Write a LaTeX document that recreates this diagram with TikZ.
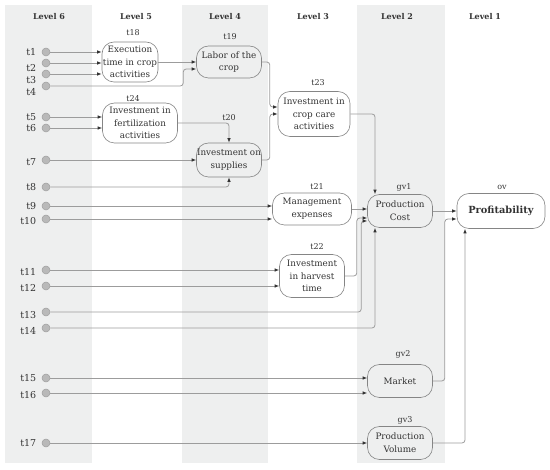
\documentclass[tikz,border=0pt]{standalone}
\usepackage{fontspec}
\setmainfont{DejaVu Serif}
\usetikzlibrary{
  arrows.meta,
  calc,
  positioning
}
\definecolor{bandgray}{HTML}{EEEFEF}
\definecolor{wiregray}{HTML}{9C9C9C}
\definecolor{rimgray}{HTML}{858585}
\definecolor{inkgray}{HTML}{333333}

\begin{document}
\begin{tikzpicture}[x=1pt,y=-1pt,
  every node/.style={text=inkgray},
  label distance=2pt,
  head/.style={font=\fontsize{8}{10}\selectfont\bfseries},
  var/.style={draw=rimgray,line width=0.6pt,rounded corners=12pt,align=center,
    inner xsep=0.5pt,inner ysep=0pt,font=\fontsize{8.8}{12.8}\selectfont},
  tag/.style={font=\fontsize{8}{10}\selectfont},
  src/.style={circle,draw=gray!75,fill=gray!55,line width=0.5pt,minimum size=8pt,inner sep=0pt},
  lab/.style={font=\fontsize{9.5}{11}\selectfont,text=inkgray},
  wire/.style={draw=wiregray,line width=0.8pt,rounded corners=3pt,
    -{Latex[length=4.5pt,width=3.5pt,color=inkgray]}}
]
  \useasboundingbox (0,0) rectangle (550,470);
  \fill[bandgray] (5,5) rectangle (92,463);
  \fill[bandgray] (182,5) rectangle (268,463);
  \fill[bandgray] (357,5) rectangle (445,463);

  \node[head] (h6) at (49,17) {Level 6};
  \node[head] (h5) at (136,17) {Level 5};
  \node[head] (h4) at (225,17) {Level 4};
  \node[head] (h3) at (313,17) {Level 3};
  \node[head] (h2) at (397,17) {Level 2};
  \node[head] (h1) at (485,17) {Level 1};

  \node[src,label={[lab]left:t1}] (t1) at (46,52) {};
  \node[src,label={[lab,yshift=-5pt]left:t2}] (t2) at (46,63) {};
  \node[src,label={[lab,yshift=-6pt]left:t3}] (t3) at (46,74) {};
  \node[src,label={[lab,yshift=-6pt]left:t4}] (t4) at (46,86) {};
  \node[src,label={[lab]left:t5}] (t5) at (46,117) {};
  \node[src,label={[lab]left:t6}] (t6) at (46,128) {};
  \node[src,label={[lab,yshift=-2pt]left:t7}] (t7) at (46,160) {};
  \node[src,label={[lab]left:t8}] (t8) at (46,187) {};
  \node[src,label={[lab]left:t9}] (t9) at (46,206) {};
  \node[src,label={[lab,yshift=-2pt]left:t10}] (t10) at (46,219) {};
  \node[src,label={[lab,yshift=-2pt]left:t11}] (t11) at (46,270) {};
  \node[src,label={[lab,yshift=-2pt]left:t12}] (t12) at (46,286) {};
  \node[src,label={[lab,yshift=-3pt]left:t13}] (t13) at (46,312) {};
  \node[src,label={[lab,yshift=-3pt]left:t14}] (t14) at (46,328) {};
  \node[src,label={[lab]left:t15}] (t15) at (46,378) {};
  \node[src,label={[lab,yshift=-2pt]left:t16}] (t16) at (46,393) {};
  \node[src,label={[lab]left:t17}] (t17) at (46,443) {};

  \node[var,minimum width=56pt,minimum height=40pt] (t18) at (130,62) {Execution\\time in crop\\activities};
  \node[var,minimum width=65pt,minimum height=32pt] (t19) at (229,62) {Labor of the\\crop};
  \node[var,minimum width=75pt,minimum height=40pt] (t24) at (140,123) {Investment in\\fertilization\\activities};
  \node[var,minimum width=65pt,minimum height=34pt] (t20) at (229,160) {Investment on\\supplies};
  \node[var,minimum width=72pt,minimum height=45pt] (t23) at (314,114) {Investment in\\crop care\\activities};
  \node[var,minimum width=79pt,minimum height=32pt] (t21) at (312,209) {Management\\expenses};
  \node[var,minimum width=65pt,minimum height=43pt] (t22) at (312,276) {Investment\\in harvest\\time};
  \node[var,minimum width=65pt,minimum height=33pt] (gv1) at (400,211) {Production\\Cost};
  \node[var,minimum width=88pt,minimum height=35pt,font=\fontsize{9.8}{12}\selectfont\bfseries] (ov) at (501,211) {Profitability};
  \node[var,minimum width=65pt,minimum height=33pt] (gv2) at (400,381) {Market};
  \node[var,minimum width=65pt,minimum height=33pt] (gv3) at (400,443) {Production\\Volume};

  \node[tag] (lt18) at (133,33) {t18};
  \node[tag] (lt19) at (230,37) {t19};
  \node[tag] (lt24) at (133,99) {t24};
  \node[tag] (lt20) at (229,118) {t20};
  \node[tag] (lt23) at (318,83) {t23};
  \node[tag] (lt21) at (317,187) {t21};
  \node[tag] (lt22) at (317,247) {t22};
  \node[tag] (lgv1) at (404,187) {gv1};
  \node[tag] (lov) at (502,187) {ov};
  \node[tag] (lgv2) at (403,354) {gv2};
  \node[tag] (lgv3) at (405,420) {gv3};

  \draw[wire] (t1) -- (t1 -| t18.west);
  \draw[wire] (t2) -- (t2 -| t18.west);
  \draw[wire] (t3) -- (t3 -| t18.west);
  \draw[wire] (t4.east) -- ++(133,0) |- ($(t19.west)+(0,7)$);
  \draw[wire] (t18.east) -- (t19.west);
  \draw[wire] (t5) -- (t5 -| t24.west);
  \draw[wire] (t6) -- (t6 -| t24.west);
  \draw[wire] (t24.east) -| (t20.north);
  \draw[wire] (t7) -- (t7 -| t20.west);
  \draw[wire] (t8.east) -| (t20.south);
  \draw[wire] (t19.east) -- ++(8,0) |- ($(t23.west)+(0,-7)$);
  \draw[wire] (t20.east) -- ++(8,0) |- (t23.west);
  \draw[wire] (t23.east) -| ($(gv1.north)+(-25,0)$);
  \draw[wire] (t9) -- (t9 -| t21.west);
  \draw[wire] (t10) -- (t10 -| t21.west);
  \draw[wire] (t21.east) -- (t21.east -| gv1.west);
  \draw[wire] (t11) -- (t11 -| t22.west);
  \draw[wire] (t12) -- (t12 -| t22.west);
  \draw[wire] (t22.east) -- ++(12,0) |- ($(gv1.west)+(0,7)$);
  \draw[wire] (t13.east) -- ++(311,0) |- ($(gv1.west)+(0,10)$);
  \draw[wire] (t14.east) -| ($(gv1.south)+(-25,0)$);
  \draw[wire] (t15) -- (t15 -| gv2.west);
  \draw[wire] (t16) -- (t16 -| gv2.west);
  \draw[wire] (t17) -- (t17 -| gv3.west);
  \draw[wire] (gv1.east) -- (ov.west);
  \draw[wire] (gv2.east) -- ++(12,0) |- ($(ov.west)+(0,8)$);
  \draw[wire] (gv3.east) -| ($(ov.south)+(-36,0)$);
\end{tikzpicture}
\end{document}
